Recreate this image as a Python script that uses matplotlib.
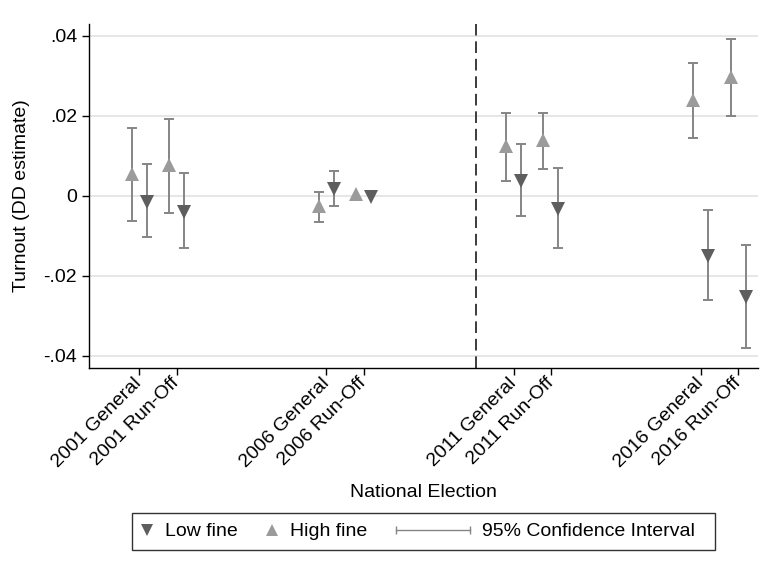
import numpy as np
import matplotlib
matplotlib.use("Agg")
import matplotlib.pyplot as plt
from matplotlib.lines import Line2D
from matplotlib.legend_handler import HandlerBase

plt.rcParams['font.family'] = ['Liberation Sans', 'DejaVu Sans']

# Data
labels = ["2001 General", "2001 Run-Off", "2006 General", "2006 Run-Off",
          "2011 General", "2011 Run-Off", "2016 General", "2016 Run-Off"]
group_idx = [0, 0, 1, 1, 2, 2, 3, 3]
round_idx = [0, 1, 0, 1, 0, 1, 0, 1]

high_est = [0.0055, 0.0078, -0.0025, 0.0004, 0.0125, 0.0140, 0.0240, 0.0298]
high_lo = [-0.0062, -0.0042, -0.0066, np.nan, 0.0037, 0.0067, 0.0144, 0.0199]
high_hi = [0.0170, 0.0192, 0.0010, np.nan, 0.0207, 0.0207, 0.0333, 0.0392]

low_est = [-0.0014, -0.0039, 0.0017, -0.0003, 0.0037, -0.0033, -0.0150, -0.0253]
low_lo = [-0.0103, -0.0130, -0.0025, np.nan, -0.0051, -0.0131, -0.0259, -0.0379]
low_hi = [0.0080, 0.0058, 0.0062, np.nan, 0.0131, 0.0069, -0.0035, -0.0122]

cutoff = 10  # reform between 2006 and 2011

yticks = [-0.04, -0.02, 0, 0.02, 0.04]
ytick_labels = ["-.04", "-.02", "0", ".02", ".04"]

C_LOW = "#5e5e5e"
C_HIGH = "#9b9b9b"
C_CI = "#858585"
FS = 14

pos = np.array([1 + 5 * g + r for g, r in zip(group_idx, round_idx)], dtype=float)

fig = plt.figure(figsize=(7.64, 5.73), dpi=100)
ax = fig.add_axes([89 / 764, 1 - 368 / 573, (758 - 89) / 764, (368 - 24) / 573])


def draw_series(x, est, lo, hi, marker, color):
    est, lo, hi = map(np.asarray, (est, lo, hi))
    ok = ~np.isnan(lo)
    ax.errorbar(x[ok], est[ok], yerr=[est[ok] - lo[ok], hi[ok] - est[ok]],
                fmt='none', ecolor=C_CI, elinewidth=1.4, capsize=3.3,
                capthick=1.4, zorder=3)
    ax.plot(x, est, linestyle='none', marker=marker, markersize=9.5,
            color=color, markeredgewidth=0, zorder=4)


draw_series(pos - 0.2, high_est, high_lo, high_hi, '^', C_HIGH)
draw_series(pos + 0.2, low_est, low_lo, low_hi, 'v', C_LOW)

ax.axvline(cutoff, color="#3c3c3c", linestyle=(0, (6, 3)), linewidth=1.4, zorder=2)

ax.set_xlim(-0.34, 17.53)
ax.set_ylim(-0.043, 0.043)
ax.set_yticks(yticks)
ax.set_yticklabels(ytick_labels, fontsize=FS)
ax.set_xticks(pos)
ax.set_xticklabels(labels, fontsize=FS, rotation=45, ha='right',
                   va='center', rotation_mode='anchor')
ax.tick_params(axis='both', direction='out', length=5, width=1, color='black')
ax.tick_params(axis='x', pad=4)
ax.grid(axis='y', color='#e6e6e6', linewidth=1.4, zorder=0)
ax.set_axisbelow(True)
for s in ('top', 'right'):
    ax.spines[s].set_visible(False)
for s in ('left', 'bottom'):
    ax.spines[s].set_linewidth(1.0)

ax.set_ylabel("Turnout (DD estimate)", fontsize=FS, labelpad=10)
ax.set_xlabel("National Election", fontsize=FS, labelpad=10)


class HandlerCI(HandlerBase):
    def legend_artist(self, legend, orig_handle, fontsize, handlebox):
        w = 3.8 * fontsize
        handlebox.width = w
        y = handlebox.height / 2 - handlebox.ydescent
        x0 = -handlebox.xdescent
        line = Line2D([x0, x0 + w], [y, y], color=C_CI, linewidth=1.0)
        caps = Line2D([x0, x0 + w], [y, y], linestyle='none', marker='|',
                      markersize=6, markeredgewidth=1.0, color=C_CI)
        handlebox.add_artist(line)
        handlebox.add_artist(caps)
        return line


h_low = Line2D([], [], linestyle='none', marker='v', markersize=9,
               color=C_LOW, markeredgewidth=0)
h_high = Line2D([], [], linestyle='none', marker='^', markersize=9,
                color=C_HIGH, markeredgewidth=0)
h_ci = Line2D([], [], color=C_CI)

# trailing space widens the right padding like the reference box
leg = fig.legend([h_low, h_high, h_ci],
                 ["Low fine", "High fine", "95% Confidence Interval  "],
                 handler_map={h_ci: HandlerCI()},
                 loc='upper center', bbox_to_anchor=(423.5 / 764, 1 - 513 / 573),
                 ncol=3, fontsize=FS, frameon=True, fancybox=False,
                 edgecolor='black', handlelength=0.6, handletextpad=0.6,
                 columnspacing=1.5, borderpad=0.5, borderaxespad=0)
leg.get_frame().set_linewidth(1.0)

fig.savefig("out.png", dpi=100, facecolor='white')
